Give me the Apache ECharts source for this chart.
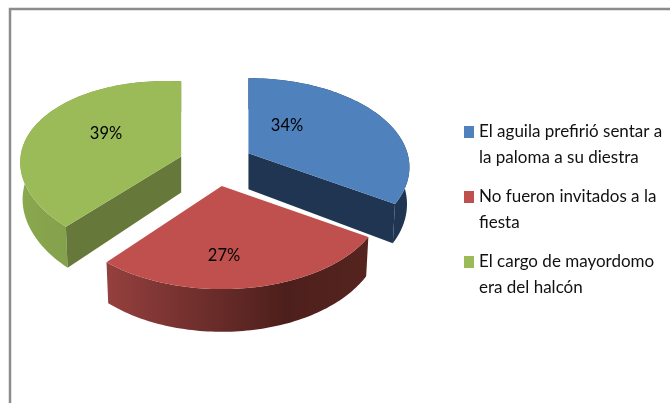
<!DOCTYPE html>
<html>
<head>
<meta charset="utf-8">
<style>html,body{margin:0;padding:0;background:#fff}#main{width:670px;height:403px}</style>
<script src="https://cdn.jsdelivr.net/npm/echarts@6/dist/echarts.min.js"></script>
</head>
<body>
<div id="main"></div>
<script>
// datos
var categories = ['El aguila prefirió sentar a\nla paloma a su diestra', 'No fueron invitados a la\nfiesta', 'El cargo de mayordomo\nera del halcón'];
var values = [34, 27, 39];
var topColors = ['#4f81bd', '#c0504d', '#9bbb59'];
var cutColors = ['#1f3552', '#532220', '#66783a'];
var wallStops = [
  [[0, '#1f3552'], [1, '#1f3552']],
  [[0, '#95403e'], [0.68, '#4d1f1c'], [1, '#55241f']],
  [[0, '#8aa84f'], [0.5, '#7f9b48'], [1, '#66783a']]
];
var labelPos = [[287, 126], [224, 256], [106, 134]];
var tilt = [0, 0, 0.05];

// proyeccion de la tarta en perspectiva
var cx = 216, cy = 164, rx = 159, ry = 86.8, persp = 0.157;
var explodeX = 37, explodeY = 22.4, depth = 36, bottomShrink = 0.985;
var total = values.reduce(function (a, b) { return a + b; }, 0);

function project(c, angle, r, low, t) {
  var u = r * Math.sin(angle), v = -r * Math.cos(angle);
  var s = 1 / (1 - persp * v);
  var k = low ? bottomShrink : 1;
  var dx = u * s * rx * k;
  return [c[0] + dx, c[1] + v * s * ry + (low ? depth * s : 0) + dx * t];
}

function arcPoints(c, a0, a1, low, t) {
  var pts = [], n = 80;
  for (var i = 0; i <= n; i++) {
    pts.push(project(c, a0 + (a1 - a0) * i / n, 1, low, t));
  }
  return pts;
}

function makeRender(idx) {
  var before = values.slice(0, idx).reduce(function (a, b) { return a + b; }, 0);
  return function (params, api) {
    var val = api.value(0);
    var a0 = before / total * Math.PI * 2;
    var a1 = (before + val) / total * Math.PI * 2;
    var mid = (a0 + a1) / 2;
    var t = tilt[idx];
    var c = [cx + explodeX * Math.sin(mid), cy - explodeY * Math.cos(mid)];
    var topArc = arcPoints(c, a0, a1, false, t);
    var lowArc = arcPoints(c, a0, a1, true, t);
    var apexLow = project(c, 0, 0, true, t);
    var wall = topArc.concat(lowArc.slice().reverse());
    var colorStops = wallStops[idx].map(function (s) { return { offset: s[0], color: s[1] }; });
    var children = [
      { type: 'polygon', shape: { points: wall }, style: { fill: { type: 'linear', x: 0, y: 0, x2: 1, y2: 0, colorStops: colorStops } } }
    ];
    // solo las caras de corte que miran al frente
    if (Math.sin(a0) < -0.01) {
      children.push({ type: 'polygon', shape: { points: [c, topArc[0], lowArc[0], apexLow] }, style: { fill: cutColors[idx] } });
    }
    if (Math.sin(a1) > 0.01) {
      children.push({ type: 'polygon', shape: { points: [c, topArc[topArc.length - 1], lowArc[lowArc.length - 1], apexLow] }, style: { fill: cutColors[idx] } });
    }
    children.push({ type: 'polygon', shape: { points: [c].concat(topArc) }, style: { fill: topColors[idx] } });
    children.push({ type: 'text', style: { x: labelPos[idx][0], y: labelPos[idx][1], text: val + '%', fill: '#000', font: '16.5px Lato', align: 'center', verticalAlign: 'middle' } });
    return { type: 'group', children: children };
  };
}

var chart = echarts.init(document.getElementById('main'));
var option = {
  animation: false,
  backgroundColor: '#fff',
  color: topColors,
  legend: {
    orient: 'vertical',
    left: 464,
    top: 119,
    padding: 0,
    itemWidth: 10,
    itemHeight: 38,
    itemGap: 13,
    itemStyle: { borderWidth: 0 },
    selectedMode: false,
    // cuadro alineado con la primera linea del texto
    icon: 'path://M0,0H10V12H0ZM0,38L0.01,38',
    textStyle: { fontFamily: 'Lato', fontSize: 17, lineHeight: 26, color: '#111' },
    data: categories
  },
  graphic: [
    { type: 'rect', shape: { x: 10, y: 9, width: 700, height: 500 }, style: { fill: 'none', stroke: '#8c8c8c', lineWidth: 2.5 }, silent: true }
  ],
  series: categories.map(function (name, i) {
    return { type: 'custom', name: name, coordinateSystem: 'none', renderItem: makeRender(i), silent: true, data: [[values[i]]] };
  })
};
chart.setOption(option);
</script>
</body>
</html>
